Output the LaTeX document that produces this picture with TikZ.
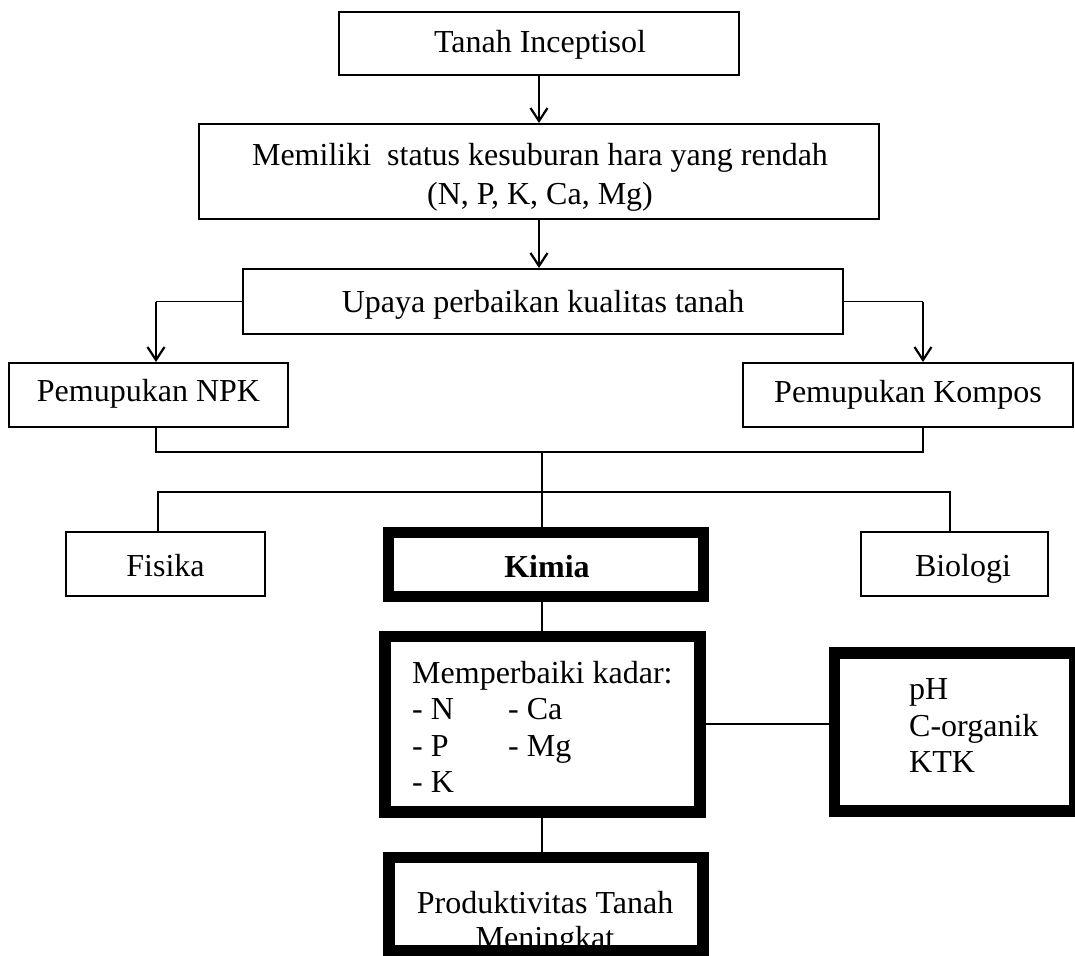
\documentclass[tikz,border=0pt]{standalone}
\usepackage{fontspec}
\setmainfont{Liberation Serif}
\usetikzlibrary{fit,arrows.meta}
\begin{document}
\begin{tikzpicture}[x=1pt,y=-1pt,
  box/.style={draw,line width=2pt,inner sep=0pt,fill=white},
  thickbox/.style={draw,line width=11.5pt,inner sep=0pt,fill=white},
  txt/.style={inner sep=0pt,anchor=base,font=\fontsize{32}{36.5}\selectfont},
  ltxt/.style={txt,anchor=base west},
  conn/.style={line width=1.6pt},
  arr/.style={line width=2.2pt,-{Straight Barb[length=13pt,width=17pt]}},
]
\useasboundingbox (0,0) rectangle (1075,955);
\clip (0,0) rectangle (1075,955);

% boxes
\node[box,fit={(339,12) (739,75)}] (b1) {};
\node[box,fit={(199,124) (879,219)}] (b2) {};
\node[box,fit={(243,269) (843,334)}] (b3) {};
\node[box,fit={(9,363) (288,427)}] (npk) {};
\node[box,fit={(743,363) (1073,427)}] (komp) {};
\node[box,fit={(66,532) (265,596)}] (fis) {};
\node[box,fit={(861,532) (1048,596)}] (bio) {};
\node[thickbox,line width=11pt,fit={(388,532.5) (703,596.5)}] (kim) {};
\node[thickbox,fit={(385,636.5) (700,812)}] (b4) {};
\node[thickbox,fit={(834.5,653) (1075,811)}] (b5) {};
\node[thickbox,fit={(389,857.5) (703,951)}] (b6) {};

% texts
\node[txt] (t1) at (540,53) {Tanah Inceptisol};
\node[txt] (t2a) at (540,165) {Memiliki\hspace{0.25em} status kesuburan hara yang rendah};
\node[txt] (t2b) at (540,204) {(N, P, K, Ca, Mg)};
\node[txt] (t3) at (543,312) {Upaya perbaikan kualitas tanah};
\node[txt] (tnpk) at (148.5,401) {Pemupukan NPK};
\node[txt] (tkomp) at (908,402) {Pemupukan Kompos};
\node[txt] (tfis) at (165.5,576) {Fisika};
\node[txt] (tkim) at (547,577) {\textbf{Kimia}};
\node[txt] (tbio) at (963,576) {Biologi};
\node[ltxt] (t4a) at (412,683) {Memperbaiki kadar:};
\node[ltxt] (t4b) at (412,719.5) {- N};
\node[ltxt] (t4c) at (412,756) {- P};
\node[ltxt] (t4d) at (412,792.5) {- K};
\node[ltxt] (t4e) at (508,719.5) {- Ca};
\node[ltxt] (t4f) at (508,756) {- Mg};
\node[ltxt] (t5a) at (909,699) {pH};
\node[ltxt] (t5b) at (909,736) {C-organik};
\node[ltxt] (t5c) at (909,772.5) {KTK};
\node[txt] (t6a) at (545,913) {Produktivitas Tanah};
\node[txt] (t6b) at (545,948) {Meningkat};
\draw[line width=11.5pt] (383.25,951) -- (708.75,951);

% helper coordinates
\coordinate (nl) at (156,0);
\coordinate (nr) at (923,0);
\coordinate (m) at (0,452);
\coordinate (mc) at (542,452);
\coordinate (s) at (0,492);
\coordinate (fl) at (158,0);
\coordinate (fr) at (950,0);

% connectors
\draw[arr] (b1.south) -- (b2.north);
\draw[arr] (b2.south) -- (b2.south |- b3.north);
\draw[conn] (b3.west) -- (b3.west -| nl);
\draw[arr] (b3.west -| nl) -- (nl |- npk.north);
\draw[conn] (b3.east) -- (b3.east -| nr);
\draw[arr] (b3.east -| nr) -- (nr |- komp.north);
\draw[conn] (nl |- npk.south) -- (nl |- m) -- (nr |- m) -- (nr |- komp.south);
\draw[conn] (mc) -- (mc |- kim.north);
\draw[conn] (fl |- fis.north) -- (fl |- s) -- (fr |- s) -- (fr |- bio.north);
\draw[conn] (mc |- kim.south) -- (mc |- b4.north);
\draw[conn] (b4.east) -- (b4.east -| b5.west);
\draw[conn] (mc |- b4.south) -- (mc |- b6.north);
\end{tikzpicture}
\end{document}
